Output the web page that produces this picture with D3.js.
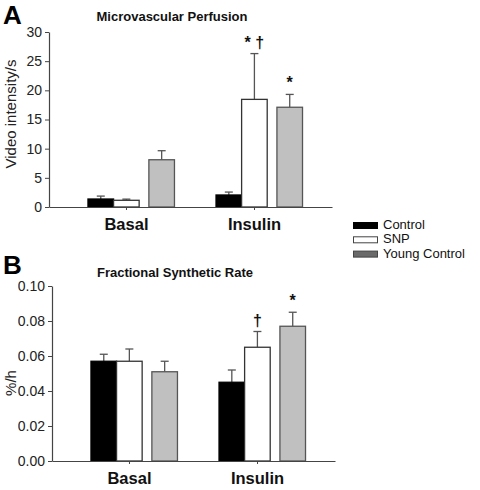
<!DOCTYPE html>
<html><head><meta charset="utf-8">
<script src="https://cdn.jsdelivr.net/npm/d3@7"></script>
<style>
body{margin:0;background:#fff;}
svg{display:block;font-family:"Liberation Sans",Arial,sans-serif;}
</style></head>
<body><svg id="c" width="480" height="490"></svg>
<script>
const groups = ["Basal", "Insulin"];
const series = ["Control", "SNP", "Young Control"];
const slots = [0, 1, 2.38];
// Panel A: Microvascular perfusion (Video intensity/s)
const perfusion = [[1.37, 1.15, 8.1], [2.06, 18.45, 17.1]];
const perfusionErr = [[0.5, 0.2, 1.55], [0.5, 7.85, 2.2]];
const perfusionMarks = [["", "", ""], ["", "* \u2020", "*"]];
const perfusionTicks = [0, 5, 10, 15, 20, 25, 30];
// Panel B: Fractional synthetic rate (%/h)
const fsr = [[0.057, 0.057, 0.051], [0.045, 0.065, 0.077]];
const fsrErr = [[0.004, 0.007, 0.006], [0.007, 0.009, 0.008]];
const fsrMarks = [["", "", ""], ["", "\u2020", "*"]];
const fsrTicks = [0, 0.02, 0.04, 0.06, 0.08, 0.10];

const fills = ["#000000", "#ffffff", "#c0c0c0"];
const strokes = ["#000000", "#333333", "#555555"];
const legendFills = ["#000000", "#ffffff", "#6a6a6a"];
const legendStrokes = ["#000000", "#444444", "#444444"];

const svg = d3.select("#c");

function panel(opt) {
  const g = svg.append("g").attr("transform", `translate(${opt.left},${opt.top})`);
  const W = 283, H = 175;
  const x0 = d3.scaleBand().domain(groups).range([0, W]).paddingInner(0).paddingOuter(0.105);
  const sub = d3.scaleLinear().domain([0, 3.4]).range([-38.5, 48.5]);
  const bw = sub(1) - sub(0);
  const y = d3.scaleLinear().domain(opt.domain).range([H, 0]);

  const rows = [];
  groups.forEach((gname, gi) => series.forEach((s, si) => {
    rows.push({g: gname, si, v: opt.values[gi][si], e: opt.errs[gi][si], m: opt.marks[gi][si]});
  }));
  const cx = d => x0(d.g) + x0.bandwidth() / 2 + sub(slots[d.si]);

  // error bars (drawn first so bar covers lower part)
  const eb = g.append("g").attr("stroke", "#555").attr("stroke-width", 1.3);
  rows.forEach(d => {
    const xc = cx(d) + bw / 2;
    eb.append("line").attr("x1", xc).attr("x2", xc).attr("y1", y(d.v)).attr("y2", y(d.v + d.e));
    eb.append("line").attr("x1", xc - 4).attr("x2", xc + 4).attr("y1", y(d.v + d.e)).attr("y2", y(d.v + d.e));
  });

  g.append("g").selectAll("rect").data(rows).join("rect")
    .attr("x", d => cx(d)).attr("width", bw)
    .attr("y", d => y(d.v)).attr("height", d => H - y(d.v))
    .attr("fill", d => fills[d.si]).attr("stroke", d => strokes[d.si]).attr("stroke-width", 1.3);

  g.append("g").selectAll("text").data(rows.filter(d => d.m)).join("text")
    .attr("x", d => cx(d) + bw / 2).attr("y", d => y(d.v + d.e) - 6)
    .attr("text-anchor", "middle").attr("font-size", 16).attr("font-weight", "bold")
    .attr("fill", "#111").text(d => d.m);

  // axes
  const ya = g.append("g").call(d3.axisLeft(y).tickValues(opt.ticks).tickFormat(opt.fmt).tickSize(4).tickSizeOuter(0).tickPadding(3));
  ya.select(".domain").attr("stroke", "#444").attr("stroke-width", 1.2);
  ya.selectAll(".tick line").attr("stroke", "#444");
  ya.selectAll("text").attr("font-size", 14).attr("fill", "#222").attr("font-family", "Liberation Sans, Arial, sans-serif");

  const xa = g.append("g").attr("transform", `translate(0,${H})`)
    .call(d3.axisBottom(x0).tickSize(3).tickSizeOuter(0).tickPadding(8));
  xa.select(".domain").attr("stroke", "#444").attr("stroke-width", 1.2);
  xa.selectAll(".tick line").attr("stroke", "#444");
  xa.selectAll("text").attr("font-size", 16.5).attr("font-weight", "bold").attr("fill", "#111")
    .attr("font-family", "Liberation Sans, Arial, sans-serif");

  // title, panel letter, y label
  g.append("text").attr("x", 123).attr("y", opt.titleY - opt.top).attr("text-anchor", "middle")
    .attr("font-size", 13).attr("font-weight", "bold").attr("fill", "#111").text(opt.title);
  svg.append("text").attr("x", 3).attr("y", opt.letterY).attr("font-size", 26).attr("font-weight", "bold")
    .attr("fill", "#000").text(opt.letter);
  svg.append("text").attr("transform", `translate(16,${opt.labelY}) rotate(-90)`).attr("text-anchor", "middle")
    .attr("font-size", 15).attr("fill", "#222").text(opt.ylabel);
}

panel({left: 49, top: 32, domain: [0, 30], values: perfusion, errs: perfusionErr, marks: perfusionMarks,
  ticks: perfusionTicks, fmt: d3.format("d"), title: "Microvascular Perfusion", titleY: 21,
  letter: "A", letterY: 24, ylabel: "Video intensity/s", labelY: 114});
panel({left: 52, top: 286, domain: [0, 0.1], values: fsr, errs: fsrErr, marks: fsrMarks,
  ticks: fsrTicks, fmt: d3.format(".2f"), title: "Fractional Synthetic Rate", titleY: 277,
  letter: "B", letterY: 274, ylabel: "%/h", labelY: 383});

// legend
const lg = svg.append("g").attr("transform", "translate(353,229)");
series.forEach((s, i) => {
  const row = lg.append("g").attr("transform", `translate(0,${i * 14.3})`);
  row.append("rect").attr("x", 0.5).attr("y", -6.5).attr("width", 24).attr("height", 6)
    .attr("fill", legendFills[i]).attr("stroke", legendStrokes[i]).attr("stroke-width", 1);
  row.append("text").attr("x", 30).attr("y", 0).attr("font-size", 13).attr("fill", "#111").text(s);
});
</script></body></html>
